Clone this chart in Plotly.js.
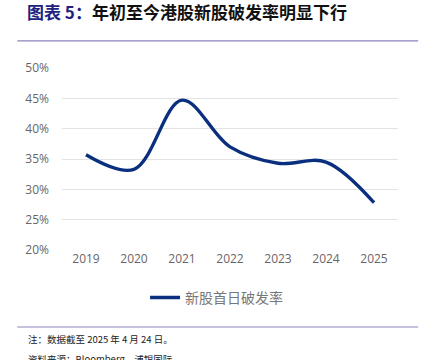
<!DOCTYPE html>
<html><head><meta charset="utf-8">
<script src="https://cdn.plot.ly/plotly-3.0.1.min.js"></script>
<style>html,body{margin:0;padding:0;background:#fff;}#chart{width:428px;height:360px;}</style>
</head><body><div id="chart"></div>
<script>
const years = ['2019','2020','2021','2022','2023','2024','2025'];
const breakRate = [0.357, 0.333, 0.447, 0.370, 0.343, 0.345, 0.278];
const seriesName = '新股首日破发率';
const yTicks = [0.2,0.25,0.3,0.35,0.4,0.45,0.5];

const trace = {
  x: years, y: breakRate, type: 'scatter', mode: 'lines', name: seriesName,
  line: {color: '#0b2f7f', width: 3.4, shape: 'spline', smoothing: 1.0}
};
const cjk = '"Noto Sans CJK SC", "Noto Sans", sans-serif';
const layout = {
  width: 428, height: 360,
  margin: {l: 62, r: 30, t: 68, b: 110},
  paper_bgcolor: '#fff', plot_bgcolor: '#fff',
  showlegend: true,
  legend: {orientation: 'h', x: 0.46, xanchor: 'center', y: -0.175, yanchor: 'top',
    font: {family: cjk, size: 14, color: '#777'}},
  xaxis: {type: 'category', range: [-0.5, 6.5], showgrid: false, zeroline: false, showline: false,
    ticks: '', tickfont: {family: '"Open Sans", sans-serif', size: 12, color: '#666'}},
  yaxis: {range: [0.2, 0.5], tickvals: yTicks, tickformat: '.0%', showgrid: true, gridcolor: '#e3e3e3', gridwidth: 1,
    zeroline: false, showline: false, ticks: '', ticklabelstandoff: 12,
    tickfont: {family: '"Open Sans", sans-serif', size: 12, color: '#666'}},
  shapes: [
    {type: 'line', xref: 'paper', yref: 'paper', x0: -0.133, x1: 1.06, y0: 1.149, y1: 1.149, line: {color: '#8b84bb', width: 1.2}},
    {type: 'line', xref: 'paper', yref: 'paper', x0: -0.133, x1: 1.06, y0: -0.423, y1: -0.423, line: {color: '#8b84bb', width: 1.2}}
  ],
  annotations: [
    {xref: 'paper', yref: 'paper', x: -0.11, y: 1.31, xanchor: 'left', yanchor: 'middle', showarrow: false,
     text: '<b><span style="color:#231f80">图表 5：</span>年初至今港股新股破发率明显下行</b>',
     font: {family: cjk, size: 17, color: '#111'}},
    {xref: 'paper', yref: 'paper', x: -0.108, y: -0.487, xanchor: 'left', yanchor: 'middle', showarrow: false,
     text: '注：数据截至 2025 年 4 月 24 日。', font: {family: cjk, size: 9.5, color: '#222'}},
    {xref: 'paper', yref: 'paper', x: -0.108, y: -0.598, xanchor: 'left', yanchor: 'middle', showarrow: false,
     text: '资料来源：Bloomberg，浦银国际', font: {family: cjk, size: 9.5, color: '#222'}}
  ]
};
Plotly.newPlot('chart', [trace], layout, {displayModeBar: false, staticPlot: true});
</script></body></html>
